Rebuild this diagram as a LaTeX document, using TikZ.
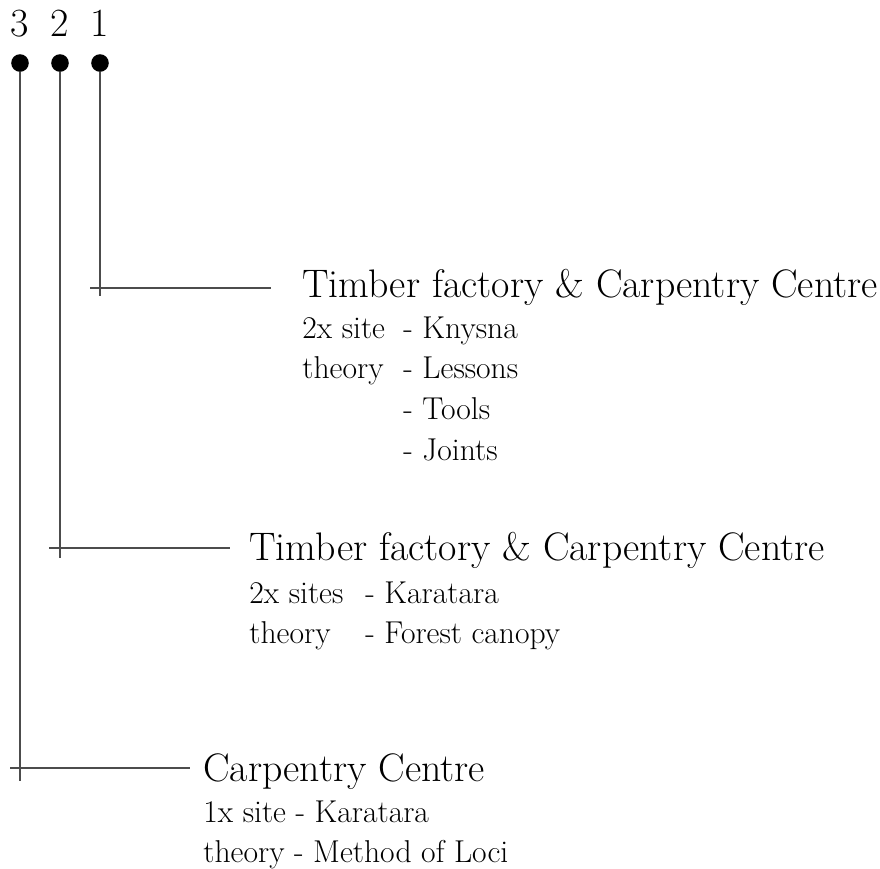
\documentclass[tikz,border=0pt]{standalone}
\usepackage{tikz}
\begin{document}
\begin{tikzpicture}[x=0.5pt,y=-0.5pt,
    dot/.style={circle, fill=black, inner sep=0pt, minimum size=8.8pt},
    num/.style={anchor=base, inner sep=0pt, font=\fontsize{20}{24}\selectfont},
    title/.style={anchor=base west, inner sep=0pt, font=\fontsize{19.9}{24}\selectfont},
    info/.style={anchor=base west, inner sep=0pt, font=\fontsize{15.8}{20.4}\selectfont},
    wire/.style={black!70, line width=0.75pt}]
    \useasboundingbox (0,0) rectangle (880,869);
    % Nodes
    \node[num] (l3) at (20,36) {3};
    \node[num] (l2) at (60,36) {2};
    \node[num] (l1) at (100,36) {1};
    \node[dot] (p3) at (20,63) {};
    \node[dot] (p2) at (60,63) {};
    \node[dot] (p1) at (100,63) {};
    \coordinate (e1) at (100,296);
    \coordinate (e2) at (60,558);
    \coordinate (e3) at (20,781);
    \coordinate (a1) at (90,288);
    \coordinate (b1) at (271,288);
    \coordinate (a2) at (49,548);
    \coordinate (b2) at (230,548);
    \coordinate (a3) at (10,768);
    \coordinate (b3) at (190,768);
    \node[title] (t1) at (302,297) {Timber factory \& Carpentry Centre};
    \node[info] (i1) at (302,338) {\begin{tabular}[t]{@{}p{50.5pt}@{}l@{}}
        2x site & - Knysna\\
        theory & - Lessons\\
        & - Tools\\
        & - Joints
    \end{tabular}};
    \node[title] (t2) at (249,560) {Timber factory \& Carpentry Centre};
    \node[info] (i2) at (249,603) {\begin{tabular}[t]{@{}p{58pt}@{}l@{}}
        2x sites & - Karatara\\
        theory & - Forest canopy
    \end{tabular}};
    \node[title] (t3) at (203,781) {Carpentry Centre};
    \node[info] (i3) at (203,822) {\begin{tabular}[t]{@{}l@{}}
        1x site - Karatara\\
        theory - Method of Loci
    \end{tabular}};
    % Edges
    \draw[wire] (p1) -- (e1);
    \draw[wire] (p2) -- (e2);
    \draw[wire] (p3) -- (e3);
    \draw[wire] (a1) -- (b1);
    \draw[wire] (a2) -- (b2);
    \draw[wire] (a3) -- (b3);
\end{tikzpicture}
\end{document}
